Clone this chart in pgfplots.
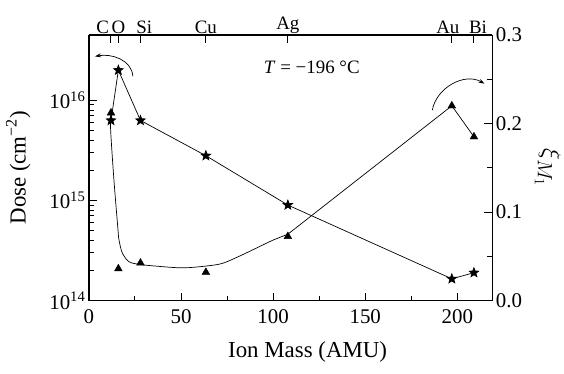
\documentclass[border=0pt]{standalone}
\usepackage{fontspec}
\setmainfont{Liberation Serif}
\usepackage{pgfplots}
\pgfplotsset{compat=1.18}
\usetikzlibrary{arrows.meta}

\pgfdeclareplotmark{fstar}{%
  \pgfpathmoveto{\pgfpointpolar{90}{\pgfplotmarksize}}%
  \pgfpathlineto{\pgfpointpolar{126}{0.42\pgfplotmarksize}}%
  \pgfpathlineto{\pgfpointpolar{162}{\pgfplotmarksize}}%
  \pgfpathlineto{\pgfpointpolar{198}{0.42\pgfplotmarksize}}%
  \pgfpathlineto{\pgfpointpolar{234}{\pgfplotmarksize}}%
  \pgfpathlineto{\pgfpointpolar{270}{0.42\pgfplotmarksize}}%
  \pgfpathlineto{\pgfpointpolar{306}{\pgfplotmarksize}}%
  \pgfpathlineto{\pgfpointpolar{342}{0.42\pgfplotmarksize}}%
  \pgfpathlineto{\pgfpointpolar{18}{\pgfplotmarksize}}%
  \pgfpathlineto{\pgfpointpolar{54}{0.42\pgfplotmarksize}}%
  \pgfpathclose
  \pgfusepathqfillstroke}

\pgfplotsset{
  common/.style={
    scale only axis, width=404bp, height=266bp,
    xmin=0, xmax=219,
    tick align=inside,
    major tick length=8bp, minor tick length=5bp,
    axis line style={line width=1.3bp},
    every tick/.style={line width=1bp, black},
    ticklabel style={font=\fontsize{21}{21}\selectfont},
    label style={font=\fontsize{23}{23}\selectfont},
    clip=false,
  }
}

\begin{document}
\begin{tikzpicture}
\begin{axis}[common,
  axis x line*=bottom, axis y line*=left,
  ymode=log, ymin=1e14, ymax=4.5e16,
  xtick={0,50,100,150,200}, xticklabels={0,50,100,150,200},
  minor xtick={25,75,125,175},
  xticklabel style={yshift=-5bp},
  ytick={1e14,1e15,1e16},
  yticklabels={10\textsuperscript{14},10\textsuperscript{15},10\textsuperscript{16}},
  xlabel={Ion Mass (AMU)},
  ylabel={Dose (cm\textsuperscript{−2})},
  xlabel style={yshift=-12bp, xshift=17bp},
  ylabel shift=12bp,
]
\addplot[black, line width=0.7bp, mark=fstar, mark size=5bp]
  coordinates {(12,6.3e15)(16,2.0e16)(28,6.3e15)(63.5,2.8e15)(108,9.0e14)(197,1.65e14)(209,1.9e14)};
\draw[line width=0.7bp, -{Stealth[length=6bp,width=4bp]}]
  (axis cs:23.9,1.74e16) to[out=95,in=10] (axis cs:3.3,2.75e16);
\end{axis}

\begin{axis}[common,
  axis x line*=top, axis y line*=right,
  ymin=0, ymax=0.3,
  ytick={0,0.1,0.2,0.3}, yticklabels={0.0,0.1,0.2,0.3},
  minor ytick={0.05,0.15,0.25},
  xtick={12,16,28,63.5,108,197,209},
  xticklabels={\makebox[0pt][r]{C\hspace{2bp}},O,\makebox[0pt][l]{\hspace{-4bp}Si},Cu,Ag,\makebox[0pt]{\hspace{-8bp}Au},\makebox[0pt]{\hspace{8bp}Bi}},
  xticklabel style={font=\fontsize{19}{19}\selectfont, yshift=-2bp},
  ylabel={\fontsize{28}{28}\selectfont$\xi_{M_1}$},
  ylabel style={rotate=180},
  ylabel shift=6bp,
]
\addplot[black, line width=0.7bp, smooth, tension=0.5]
  coordinates {(12,0.212)(11.8,0.193)(13.6,0.136)(15.8,0.080)(16.3,0.069)(18.1,0.054)(21.7,0.044)(27.2,0.041)(36.2,0.039)(50.7,0.037)(63.4,0.039)(72.4,0.042)(81.5,0.050)(90.6,0.059)(99.6,0.068)(108,0.075)};
\addplot[black, line width=0.7bp]
  coordinates {(108,0.075)(197,0.22)(209,0.185)};
\addplot[only marks, mark=triangle*, mark size=4.5bp, black]
  coordinates {(12,0.212)(16,0.036)(28,0.0425)(63.5,0.032)(108,0.0725)(197,0.22)(209,0.185)};
\draw[line width=0.7bp, -{Stealth[length=6bp,width=4bp]}]
  (axis cs:186.4,0.215) to[out=80,in=150] (axis cs:214.7,0.245);
\node[font=\fontsize{19}{19}\selectfont] at (axis cs:121,0.263) {\textit{T} = −196 °C};
\end{axis}
\path (current axis.south west) ++(-89bp,-73bp) rectangle ++(564bp,374bp);
\end{tikzpicture}
\end{document}
